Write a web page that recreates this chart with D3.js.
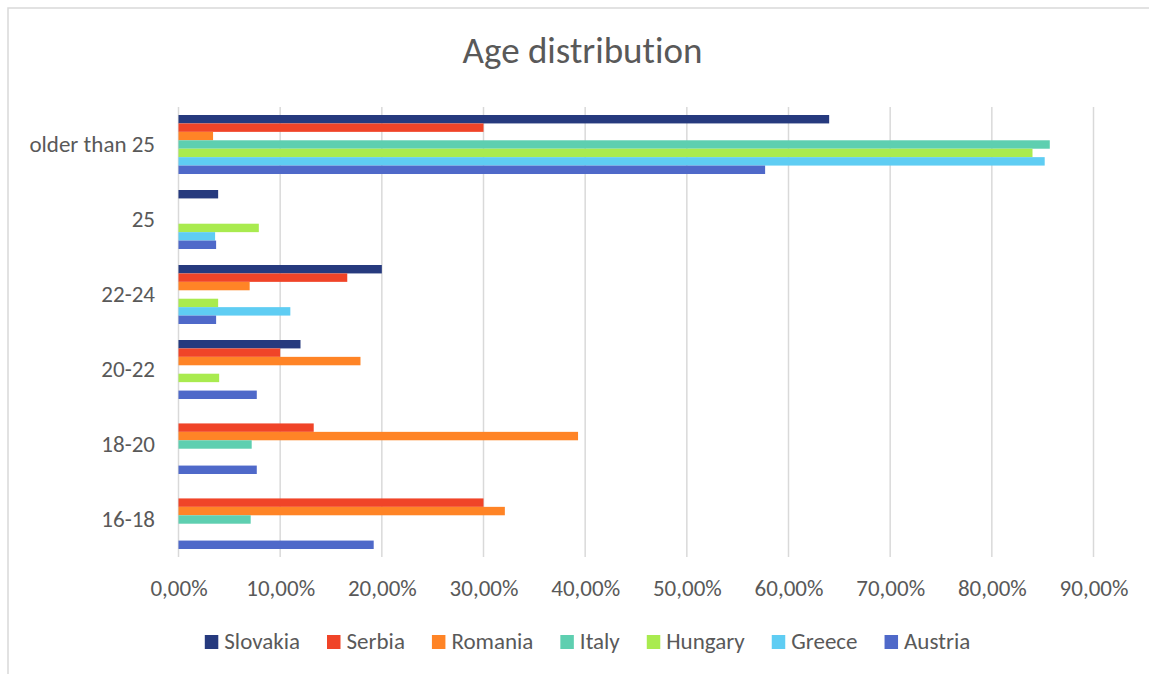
<!DOCTYPE html>
<html>
<head>
<meta charset="utf-8">
<script src="https://cdn.jsdelivr.net/npm/d3@7"></script>
<style>
body { margin: 0; background: #fff; }
text { font-family: Calibri, Carlito, Lato, sans-serif; fill: #595959; font-variant-ligatures: none; }
</style>
</head>
<body>
<svg id="chart" width="1149" height="674"></svg>
<script>
// categories, top to bottom
const categories = ["older than 25", "25", "22-24", "20-22", "18-20", "16-18"];
const seriesNames = ["Slovakia", "Serbia", "Romania", "Italy", "Hungary", "Greece", "Austria"];
const seriesColors = ["#263a7e", "#f04428", "#ff8426", "#5ecfb0", "#a9eb4f", "#5fcdf3", "#4f69c9"];
// values per series, in category order above (fractions)
const slovakia = [0.640, 0.039, 0.200, 0.120, 0, 0];
const serbia   = [0.300, 0, 0.166, 0.100, 0.133, 0.300];
const romania  = [0.034, 0, 0.070, 0.179, 0.393, 0.321];
const italy    = [0.857, 0, 0, 0, 0.072, 0.071];
const hungary  = [0.840, 0.079, 0.039, 0.040, 0, 0];
const greece   = [0.852, 0.036, 0.110, 0, 0, 0];
const austria  = [0.577, 0.037, 0.037, 0.077, 0.077, 0.192];
const seriesValues = [slovakia, serbia, romania, italy, hungary, greece, austria];
const xTicks = [0, 0.1, 0.2, 0.3, 0.4, 0.5, 0.6, 0.7, 0.8, 0.9];

var svg = d3.select("#chart");
var width = +svg.attr("width");
var height = +svg.attr("height");

// chart frame
svg.append("rect")
    .attr("x", 8)
    .attr("y", 8)
    .attr("width", width + 20)
    .attr("height", height + 20)
    .style("fill", "none")
    .style("stroke", "#d9d9d9")
    .style("stroke-width", 1.5);

const plotLeft = 178.5, plotRight = 1093.5, plotTop = 107, plotBottom = 557;
const labelSize = "23px";

const x = d3.scaleLinear().domain([0, 0.9]).range([plotLeft, plotRight]);
const y = d3.scaleBand().domain(categories).range([plotTop, plotBottom])
    .paddingInner(0.2133).paddingOuter(0.1067);
const ySeries = d3.scaleBand().domain(seriesNames).range([0, y.bandwidth()]);

const locale = d3.formatLocale({ decimal: ",", thousands: ".", grouping: [3], currency: ["", "€"] });
const pct = locale.format(".2%");

// gridlines
svg.append("g")
    .selectAll("line")
    .data(xTicks)
    .enter()
    .append("line")
    .attr("x1", d => x(d))
    .attr("x2", d => x(d))
    .attr("y1", plotTop)
    .attr("y2", plotBottom)
    .style("stroke", "#d9d9d9")
    .style("stroke-width", 1.5);

// bars
const groups = svg.append("g")
    .selectAll("g")
    .data(seriesNames)
    .enter()
    .append("g")
    .style("fill", (d, i) => seriesColors[i]);

groups.selectAll("rect")
    .data((s, i) => seriesValues[i].map((v, j) => ({ s: s, c: categories[j], v: v })).filter(d => d.v > 0))
    .enter()
    .append("rect")
    .attr("x", x(0))
    .attr("y", d => y(d.c) + ySeries(d.s))
    .attr("width", d => x(d.v) - x(0))
    .attr("height", ySeries.bandwidth());

// x axis labels
const xAxis = d3.axisBottom(x).tickValues(xTicks).tickFormat(pct).tickSize(0).tickPadding(0);
const gx = svg.append("g")
    .attr("transform", "translate(0,596)")
    .call(xAxis);
gx.select(".domain").remove();
gx.attr("font-family", null).attr("font-size", null);
gx.selectAll("text")
    .attr("dy", "0")
    .style("font-size", labelSize)
    .style("fill", "#595959");

// y axis labels
const yAxis = d3.axisLeft(y).tickSize(0).tickPadding(0);
const gy = svg.append("g")
    .attr("transform", "translate(155,0)")
    .call(yAxis);
gy.select(".domain").remove();
gy.attr("font-family", null).attr("font-size", null);
gy.selectAll("text")
    .attr("dy", "0.33em")
    .style("font-size", labelSize)
    .style("fill", "#595959");

// title
svg.append("text")
    .attr("x", 582.5)
    .attr("y", 63)
    .attr("text-anchor", "middle")
    .style("font-size", "37px")
    .text("Age distribution");

// legend
const legend = svg.append("g");
const items = legend.selectAll("g")
    .data(seriesNames)
    .enter()
    .append("g");
items.append("rect")
    .attr("width", 13.5)
    .attr("height", 14)
    .attr("y", -14)
    .style("fill", (d, i) => seriesColors[i]);
items.append("text")
    .attr("x", 19.5)
    .attr("y", 0)
    .style("font-size", labelSize)
    .text(d => d);
let cursor = 0;
items.each(function () {
    const w = d3.select(this).select("text").node().getComputedTextLength();
    d3.select(this).attr("transform", "translate(" + cursor + ",0)");
    cursor += 19.5 + w + 27;
});
const legendWidth = cursor - 27;
legend.attr("transform", "translate(" + (587.5 - legendWidth / 2) + ",649)");
</script>
</body>
</html>
